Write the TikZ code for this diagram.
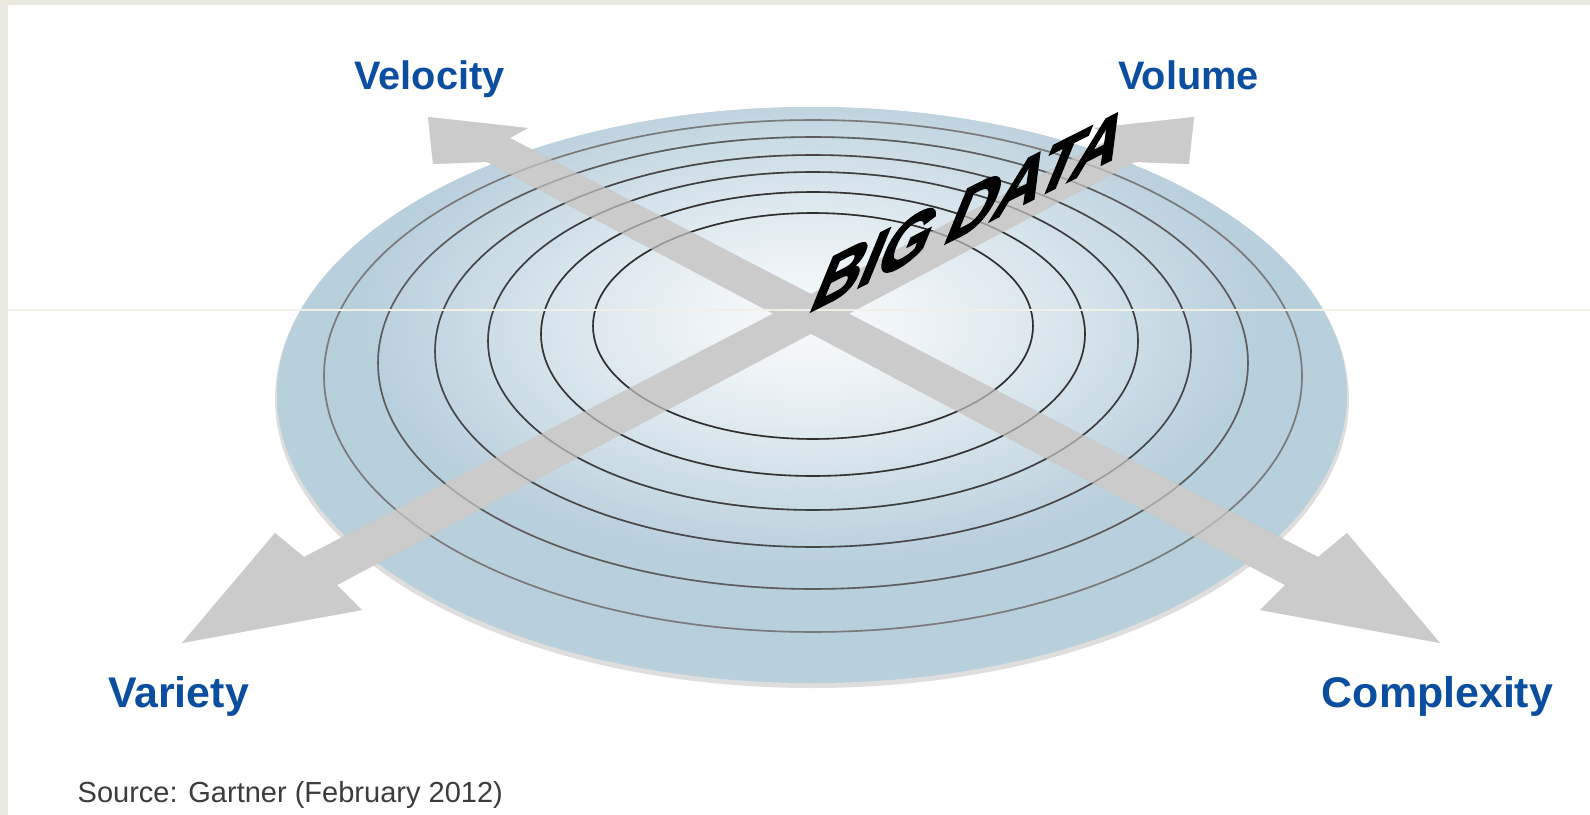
\documentclass[tikz,border=0pt]{standalone}
\usepackage{fontspec}
\setmainfont{Liberation Sans}
\newfontfamily\heavyfont[FakeBold=3]{Liberation Sans Bold}
\definecolor{bgbeige}{HTML}{E9E9DF}
\definecolor{diskblue}{HTML}{B8CFDC}
\definecolor{diskmid}{HTML}{D2E1E9}
\definecolor{disklight}{HTML}{EAF1F5}
\definecolor{diskwhite}{HTML}{F8FAFC}
\definecolor{bandgrey}{HTML}{CBCBCB}
\definecolor{labelblue}{HTML}{0B4EA0}
\definecolor{srcgrey}{HTML}{3C3C3C}
\pgfdeclareradialshading{diskshade}{\pgfpoint{0bp}{0bp}}{color(0bp)=(diskwhite); color(6bp)=(disklight); color(13bp)=(diskmid); color(20bp)=(diskblue); color(50bp)=(diskblue)}
\begin{document}
\begin{tikzpicture}[x=0.01cm,y=-0.01cm,
  toplabel/.style={font=\bfseries\fontsize{11.3}{13}\selectfont, text=labelblue, inner sep=0pt, anchor=base},
  botlabel/.style={font=\bfseries\fontsize{12.2}{14}\selectfont, text=labelblue, inner sep=0pt, anchor=base},
  srclabel/.style={font=\fontsize{8.25}{10}\selectfont, text=srcgrey, inner sep=0pt, anchor=base west},
  bigdata/.style={font=\heavyfont\fontsize{16}{18}\selectfont, text=black, inner sep=0pt, anchor=base west, rotate=26.8, xslant=1.15, xscale=1.3},
  ringline/.style={line width=0.45pt},
  bandfill/.style={fill=bandgrey},
  bandshadow/.style={fill=black, fill opacity=0.10}
]
\useasboundingbox (0,0) rectangle (1590,815);
\fill[white] (0,0) rectangle (1590,815);
\fill[bgbeige] (0,0) rectangle (8,815);
\fill[bgbeige] (0,0) rectangle (1590,5);

% disk
\coordinate (diskc) at (812,395);
\fill[gray!50, opacity=0.5] (812,399) ellipse [x radius=537, y radius=289];
\begin{scope}
  \clip (diskc) ellipse [x radius=535, y radius=288];
  \fill[diskblue] (diskc) ellipse [x radius=535, y radius=288];
  \shade[shading=diskshade] (811,322) ellipse [x radius=560, y radius=300];
\end{scope}

% rings
\newcommand{\bdrings}[1]{%
  \draw[ringline, black!82, #1] (813,326) ellipse [x radius=220, y radius=113];
  \draw[ringline, black!80, #1] (813,334) ellipse [x radius=272, y radius=142];
  \draw[ringline, black!76, #1] (813,341) ellipse [x radius=325, y radius=169];
  \draw[ringline, black!72, #1] (813,351) ellipse [x radius=378, y radius=196];
  \draw[ringline, black!64, #1] (813,363) ellipse [x radius=435, y radius=226];
  \draw[ringline, black!52, #1] (813,376) ellipse [x radius=489, y radius=256];
}
\bdrings{}

% arrow band: Velocity -- Complexity
\coordinate (velTip) at (428,117);
\coordinate (velBarbA) at (528,128);
\coordinate (velShA) at (510,138);
\coordinate (velShB) at (487,162);
\coordinate (velBarbB) at (433,164);
\coordinate (comTip) at (1440,643);
\coordinate (comBarbA) at (1347,533);
\coordinate (comShA) at (1318,557);
\coordinate (comShB) at (1285,585);
\coordinate (comBarbB) at (1260,610);
\fill[bandshadow, shift={(2,4)}] (velTip) -- (velBarbA) -- (velShA) -- (comShA) -- (comBarbA) -- (comTip) -- (comBarbB) -- (comShB) -- (velShB) -- (velBarbB) -- cycle;
\fill[bandfill] (velTip) -- (velBarbA) -- (velShA) -- (comShA) -- (comBarbA) -- (comTip) -- (comBarbB) -- (comShB) -- (velShB) -- (velBarbB) -- cycle;

% arrow band: Volume -- Variety
\coordinate (volTip) at (1194,117);
\coordinate (volBarbA) at (1094,128);
\coordinate (volShA) at (1112,138);
\coordinate (volShB) at (1135,162);
\coordinate (volBarbB) at (1189,164);
\coordinate (varTip) at (182,643);
\coordinate (varBarbA) at (275,533);
\coordinate (varShA) at (304,557);
\coordinate (varShB) at (337,585);
\coordinate (varBarbB) at (362,610);
\fill[bandshadow, shift={(-2,4)}] (volTip) -- (volBarbA) -- (volShA) -- (varShA) -- (varBarbA) -- (varTip) -- (varBarbB) -- (varShB) -- (volShB) -- (volBarbB) -- cycle;
\fill[bandfill] (volTip) -- (volBarbA) -- (volShA) -- (varShA) -- (varBarbA) -- (varTip) -- (varBarbB) -- (varShB) -- (volShB) -- (volBarbB) -- cycle;

% rings faintly through the bands
\bdrings{draw opacity=0.35}

% faint scan line
\draw[bgbeige!70, line width=0.3pt] (8,310) -- (1590,310);

% labels
\node[toplabel] (velocity) at (429.5,90) {Velocity};
\node[toplabel] (volume) at (1188.5,90) {Volume};
\node[botlabel] (variety) at (178.5,707) {Variety};
\node[botlabel] (complexity) at (1437.5,707) {Complexity};
\node[srclabel] (source) at (77,802) {Source: Gartner (February 2012)};
\node[bigdata] (bigdatatext) at (806,314) {BIG DATA};
\end{tikzpicture}
\end{document}
